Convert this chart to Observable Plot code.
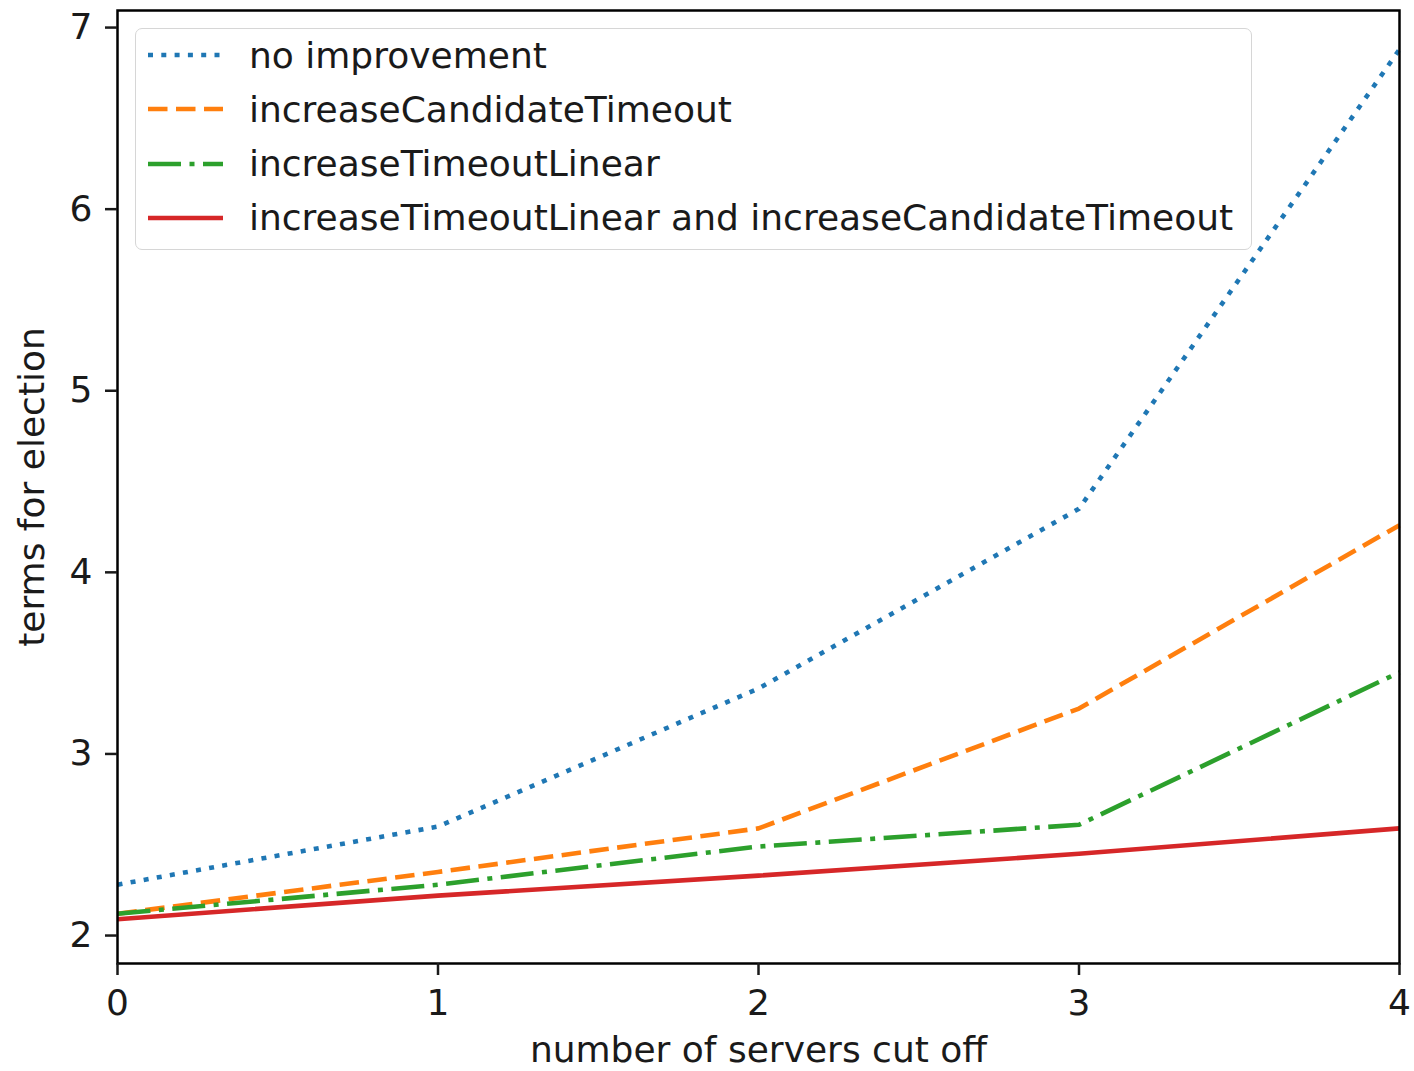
<!DOCTYPE html>
<html>
<head>
<meta charset="utf-8">
<script src="https://cdn.jsdelivr.net/npm/d3@7"></script>
<script src="https://cdn.jsdelivr.net/npm/@observablehq/plot@0.6"></script>
<style>
  html, body { margin: 0; padding: 0; background: #fff; }
  #wrap { position: relative; width: 1414px; height: 1071px; font-family: "DejaVu Sans", sans-serif; }
  #legend { position: absolute; left: 135px; top: 28px; width: 1117px; height: 222px;
    border: 1.5px solid #d6d6d6; border-radius: 7px; background: rgba(255,255,255,0.8); box-sizing: border-box; }
  .row { position: absolute; left: 0; height: 40px; display: flex; align-items: center; }
  .row svg { margin-left: 12px; }
  .row span { margin-left: 26px; font-size: 36px; color: #1a1a1a; white-space: nowrap; }
</style>
</head>
<body>
<div id="wrap"></div>
<script>
const xs = [0, 1, 2, 3, 4];
const seriesNames = ["no improvement", "increaseCandidateTimeout", "increaseTimeoutLinear", "increaseTimeoutLinear and increaseCandidateTimeout"];
const noImprovement = [2.28, 2.60, 3.36, 4.35, 6.88];
const increaseCandidateTimeout = [2.12, 2.35, 2.59, 3.25, 4.26];
const increaseTimeoutLinear = [2.12, 2.28, 2.49, 2.61, 3.45];
const bothImprovements = [2.09, 2.22, 2.33, 2.45, 2.59];
const xTicks = [0, 1, 2, 3, 4];
const yTicks = [2, 3, 4, 5, 6, 7];

const seriesValues = [noImprovement, increaseCandidateTimeout, increaseTimeoutLinear, bothImprovements];
const colors = ["#1f77b4", "#ff7f0e", "#2ca02c", "#d62728"];
const dashes = ["5,8.3", "19.5,8.5", "33,8.5,5,8.5", null];
const LW = 4.6;

const rows = [];
seriesNames.forEach((name, i) => xs.forEach((x, j) => rows.push({series: name, x, y: seriesValues[i][j]})));

const lineMarks = seriesNames.map((name, i) =>
  Plot.line(rows.filter(d => d.series === name), {
    x: "x", y: "y", stroke: colors[i], strokeWidth: LW,
    strokeDasharray: dashes[i] || undefined, strokeLinecap: "butt", strokeLinejoin: "round"
  })
);

const chart = Plot.plot({
  width: 1414,
  height: 1071,
  marginLeft: 117,
  marginRight: 15,
  marginTop: 10,
  marginBottom: 108,
  style: {fontFamily: "DejaVu Sans", color: "#1a1a1a", background: "#fff"},
  x: {domain: [0, 4]},
  y: {domain: [1.846, 7.094]},
  marks: [
    ...lineMarks,
    Plot.frame({stroke: "#000", strokeWidth: 2.5}),
    Plot.axisX({ticks: xTicks, tickSize: 12, tickPadding: 14, fontSize: 36, strokeWidth: 2.5, label: null, tickFormat: d3.format("d")}),
    Plot.axisY({ticks: yTicks, tickSize: 12, tickPadding: 13, fontSize: 36, strokeWidth: 2.5, label: null, tickFormat: d3.format("d")}),
    Plot.text(["number of servers cut off"], {frameAnchor: "bottom", lineAnchor: "middle", dy: 87, fontSize: 36, fill: "#1a1a1a"}),
    Plot.text(["terms for election"], {frameAnchor: "left", textAnchor: "middle", lineAnchor: "middle", dx: -85, rotate: -90, fontSize: 36, fill: "#1a1a1a"})
  ]
});

const wrap = document.getElementById("wrap");
wrap.appendChild(chart);

const legend = document.createElement("div");
legend.id = "legend";
seriesNames.forEach((name, i) => {
  const row = document.createElement("div");
  row.className = "row";
  row.style.top = (6 + i * 54.3) + "px";
  const dash = dashes[i] ? `stroke-dasharray="${dashes[i]}"` : "";
  row.innerHTML = `<svg width="75" height="20"><line x1="0" x2="75" y1="10" y2="10" stroke="${colors[i]}" stroke-width="${LW}" ${dash}/></svg><span>${name}</span>`;
  legend.appendChild(row);
});
wrap.appendChild(legend);
</script>
</body>
</html>
